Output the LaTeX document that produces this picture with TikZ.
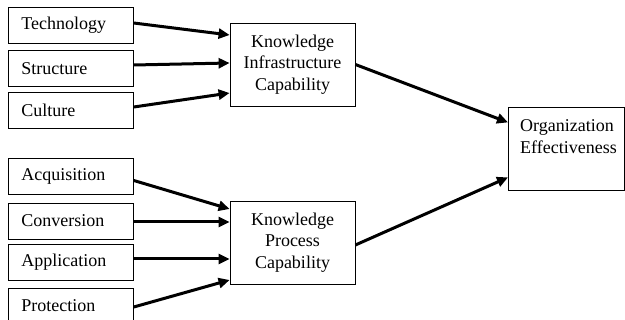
\documentclass[tikz,border=0pt]{standalone}
\usepackage{fontspec}
\setmainfont{Liberation Serif}
\usetikzlibrary{positioning}
\usetikzlibrary{arrows.meta}

\begin{document}
\begin{tikzpicture}[x=1pt, y=-1pt, font=\fontsize{18}{21.5}\selectfont,
    factor/.style={draw, line width=0.8pt, anchor=west, minimum height=36pt, text width=99pt, inner xsep=13pt, inner ysep=0pt, align=left},
    capab/.style={draw, line width=0.8pt, minimum width=125pt, minimum height=83pt, align=center},
    link/.style={line width=3pt, -{Triangle[length=11pt,width=10pt]}}]
				\useasboundingbox (0,0) rectangle (625,320);
				% infrastructure factors
				\node[factor] (tech) at (8,25.5) {Technology};
				\node[factor] (struct) at (8,68.5) {Structure};
				\node[factor] (cult) at (8,110.5) {Culture};
				% process factors
				\node[factor] (acq) at (8,176.5) {Acquisition};
				\node[factor] (conv) at (8,221) {Conversion};
				\node[factor] (appl) at (8,262.5) {Application};
				\node[factor] (prot) at (8,306) {Protection};
				% capabilities
				\node[capab] (kic) at (292.5,64.5) {Knowledge\\Infrastructure\\Capability};
				\node[capab] (kpc) at (292.5,242.5) {Knowledge\\Process\\Capability};
				\node[draw, line width=0.8pt, minimum width=116pt, minimum height=83pt, anchor=north west] (oe) at (508,107) {};
				\node[anchor=north west, align=left, inner xsep=12pt, inner ysep=12.5pt] (oetext) at (oe.north west) {Organization\\Effectiveness};
				% links
				\draw[link] ([yshift=2.5pt]tech.east) -- ([yshift=29.5pt]kic.west);
				\draw[link] ([yshift=3.5pt]struct.east) -- ([yshift=1.5pt]kic.west);
				\draw[link] ([yshift=3.5pt]cult.east) -- ([yshift=-28.5pt]kic.west);
				\draw[link] ([yshift=-4pt]acq.east) -- ([yshift=33.5pt]kpc.west);
				\draw[link] ([yshift=-1pt]conv.east) -- ([yshift=20.5pt]kpc.west);
				\draw[link] ([yshift=3.5pt]appl.east) -- ([yshift=-16.5pt]kpc.west);
				\draw[link] ([yshift=-1pt]prot.east) -- ([yshift=-37.5pt]kpc.west);
				\draw[link] (kic.east) -- ([yshift=26.5pt]oe.west);
				\draw[link] ([yshift=-2.5pt]kpc.east) -- ([yshift=-28.5pt]oe.west);
		    \end{tikzpicture}
\end{document}
